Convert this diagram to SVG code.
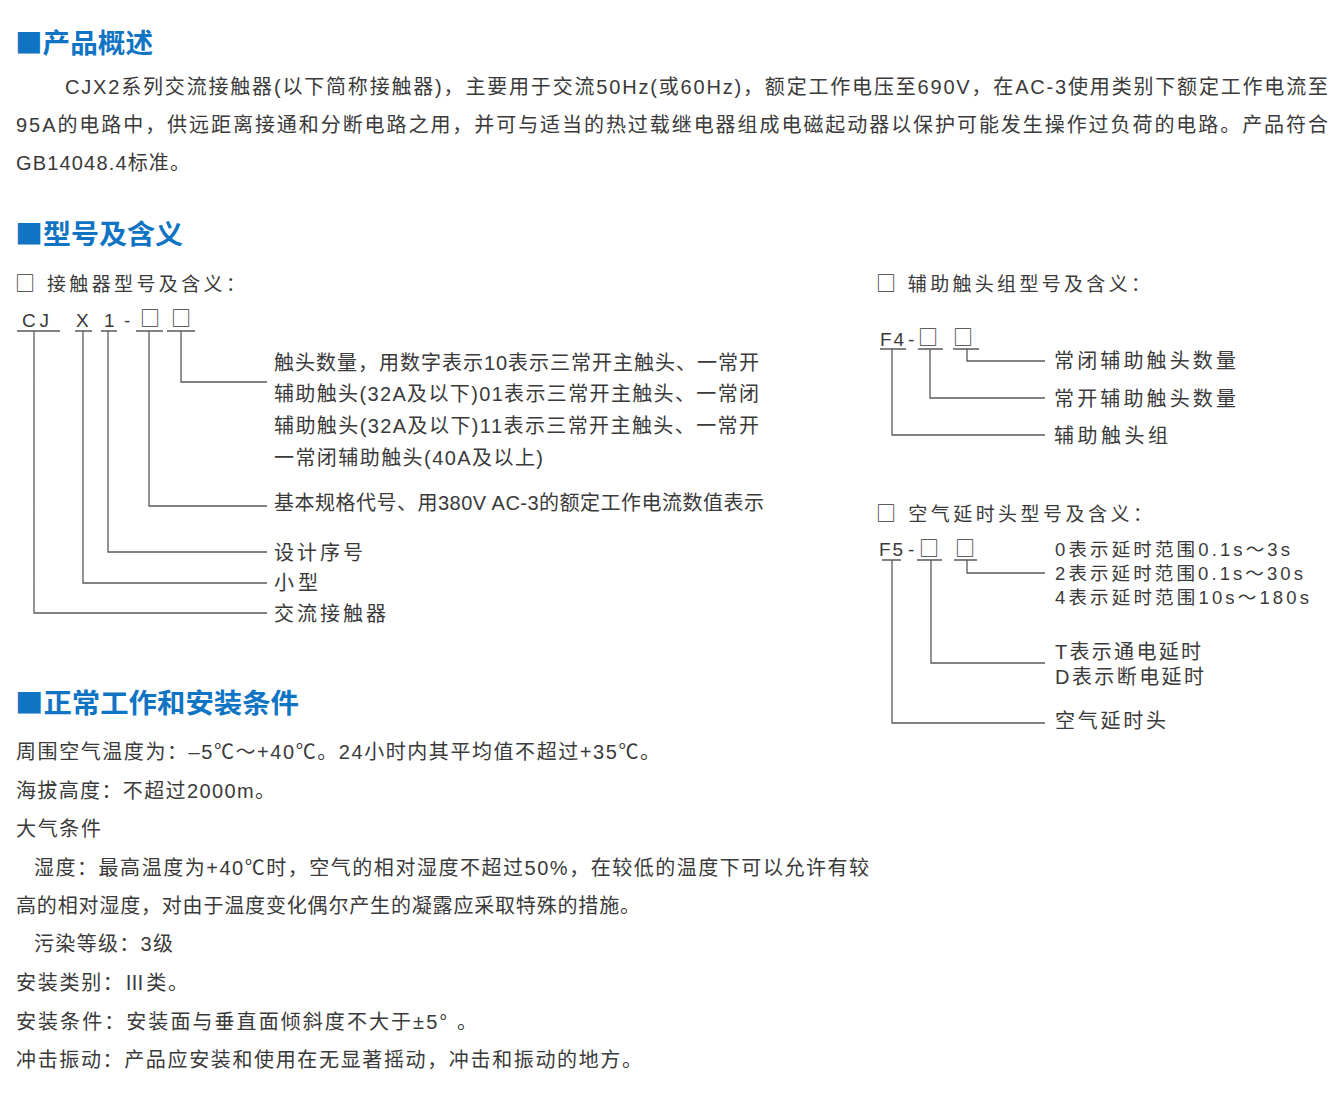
<svg xmlns="http://www.w3.org/2000/svg" width="1340" height="1101" viewBox="0 0 1340 1101">
<style>
.h{font-family:"Noto Sans CJK SC","Liberation Sans",sans-serif;font-weight:bold;font-size:27px;fill:#0f74c4}
.t{font-family:"Liberation Sans","Noto Sans CJK SC",sans-serif;font-size:20px;fill:#3a3a3a}
.s{font-family:"Liberation Sans","Noto Sans CJK SC",sans-serif;font-size:19px;fill:#3a3a3a}
.r{font-family:"Liberation Sans","Noto Sans CJK SC",sans-serif;font-size:18.5px;fill:#3a3a3a}
.c{font-family:"Liberation Sans","Noto Sans CJK SC",sans-serif;font-size:19px;fill:#3a3a3a}
.b{font-family:"Noto Sans CJK SC",sans-serif;font-size:20px;fill:#3a3a3a}
.q{font-family:"Noto Sans CJK SC",sans-serif;font-size:20px}
.k{font-family:"Noto Sans CJK SC",sans-serif}
.ln{fill:none;stroke:#5a5a5a;stroke-width:1.3}
</style>
<rect width="1340" height="1101" fill="#ffffff"/>

<g id="section-overview">
<text class="h" x="15" y="53" textLength="138" lengthAdjust="spacingAndGlyphs">■产品概述</text>
<text class="t" x="65" y="94" textLength="1263" lengthAdjust="spacing">CJX2系列交流接触器(以下简称接触器)，主要用于交流50Hz(或60Hz)，额定工作电压至690V，在AC-3使用类别下额定工作电流至</text>
<text class="t" x="16" y="132" textLength="1312" lengthAdjust="spacing">95A的电路中，供远距离接通和分断电路之用，并可与适当的热过载继电器组成电磁起动器以保护可能发生操作过负荷的电路。产品符合</text>
<text class="t" x="16" y="170" textLength="174" lengthAdjust="spacing">GB14048.4标准。</text>
</g>

<g id="section-model">
<text class="h" x="15" y="244" textLength="168" lengthAdjust="spacingAndGlyphs">■型号及含义</text>
<text class="s" x="15" y="291" textLength="230" lengthAdjust="spacing"><tspan class="q">□</tspan> 接触器型号及含义：</text>
</g>

<g id="code-cjx">
<text class="c" x="22" y="327" textLength="27" lengthAdjust="spacing">CJ</text>
<text class="c" x="76" y="327">X</text>
<text class="c" x="104" y="327">1</text>
<text class="c" x="124" y="327">-</text>
<text class="b" x="140" y="326">□</text>
<text class="b" x="171" y="326">□</text>
</g>

<g id="label-contacts">
<text class="t" x="274" y="370" textLength="485" lengthAdjust="spacing">触头数量，用数字表示10表示三常开主触头、一常开</text>
<text class="t" x="274" y="401" textLength="485" lengthAdjust="spacing">辅助触头(32A及以下)01表示三常开主触头、一常闭</text>
<text class="t" x="274" y="433" textLength="485" lengthAdjust="spacing">辅助触头(32A及以下)11表示三常开主触头、一常开</text>
<text class="t" x="274" y="465" textLength="269" lengthAdjust="spacing">一常闭辅助触头(40A及以上)</text>
</g>
<g id="label-rating">
<text class="t" x="274" y="510" textLength="490" lengthAdjust="spacing">基本规格代号、用380V AC-3的额定工作电流数值表示</text>
</g>
<g id="label-design">
<text class="t" x="274" y="560" textLength="89" lengthAdjust="spacing">设计序号</text>
</g>
<g id="label-small">
<text class="t" x="274" y="590" textLength="44" lengthAdjust="spacing">小型</text>
</g>
<g id="label-ac">
<text class="t" x="274" y="621" textLength="112" lengthAdjust="spacing">交流接触器</text>
</g>

<g id="title-f4">
<text class="s" x="876" y="291" textLength="274" lengthAdjust="spacing"><tspan class="q">□</tspan> 辅助触头组型号及含义：</text>
</g>
<g id="code-f4">
<text class="c" x="880" y="346" textLength="24" lengthAdjust="spacing">F4</text>
<text class="c" x="908" y="346">-</text>
<text class="b" x="918" y="345">□</text>
<text class="b" x="953" y="345">□</text>
</g>
<g id="label-f4-nc">
<text class="t" x="1054" y="368" textLength="182" lengthAdjust="spacing">常闭辅助触头数量</text>
</g>
<g id="label-f4-no">
<text class="t" x="1054" y="406" textLength="182" lengthAdjust="spacing">常开辅助触头数量</text>
</g>
<g id="label-f4-group">
<text class="t" x="1054" y="443" textLength="114" lengthAdjust="spacing">辅助触头组</text>
</g>

<g id="title-f5">
<text class="s" x="876" y="521" textLength="276" lengthAdjust="spacing"><tspan class="q">□</tspan> 空气延时头型号及含义：</text>
</g>
<g id="code-f5">
<text class="c" x="879" y="556" textLength="24" lengthAdjust="spacing">F5</text>
<text class="c" x="908" y="556">-</text>
<text class="b" x="919" y="556">□</text>
<text class="b" x="955" y="556">□</text>
</g>
<g id="label-f5-range">
<text class="r" x="1055" y="556" textLength="235" lengthAdjust="spacing">0表示延时范围0.1s～3s</text>
<text class="r" x="1055" y="580" textLength="248" lengthAdjust="spacing">2表示延时范围0.1s～30s</text>
<text class="r" x="1055" y="604" textLength="254" lengthAdjust="spacing">4表示延时范围10s～180s</text>
</g>
<g id="label-f5-mode">
<text class="t" x="1055" y="659" textLength="146" lengthAdjust="spacing">T表示通电延时</text>
<text class="t" x="1055" y="684" textLength="149" lengthAdjust="spacing">D表示断电延时</text>
</g>
<g id="label-f5-head">
<text class="t" x="1055" y="728" textLength="111" lengthAdjust="spacing">空气延时头</text>
</g>

<g id="connectors">
<path class="ln" d="M17 331H60M75 331H92M101 331H117M136 331H163M167 331H195"/>
<path class="ln" d="M34 331V613H267M83 331V583H267M108 331V552H267M149 331V506H267M181 331V382H267"/>
<path class="ln" d="M880 349H906M918 349H943M953 349H979"/>
<path class="ln" d="M892 349V435H1045M930 349V398H1045M967 349V361H1045"/>
<path class="ln" d="M882 560H901M917 560H942M954 560H977"/>
<path class="ln" d="M892 560V723H1045M931 560V663H1045M967 560V573H1045"/>
</g>

<g id="section-conditions">
<text class="h" x="15" y="713" textLength="284" lengthAdjust="spacingAndGlyphs">■正常工作和安装条件</text>
<text class="t" x="16" y="759" textLength="644" lengthAdjust="spacing">周围空气温度为：–5℃～+40℃。24小时内其平均值不超过+35℃。</text>
<text class="t" x="16" y="798" textLength="259" lengthAdjust="spacing">海拔高度：不超过2000m。</text>
<text class="t" x="16" y="836" textLength="85" lengthAdjust="spacing">大气条件</text>
<text class="t" x="34" y="875" textLength="835" lengthAdjust="spacing">湿度：最高温度为+40℃时，空气的相对湿度不超过50%，在较低的温度下可以允许有较</text>
<text class="t" x="16" y="913" textLength="624" lengthAdjust="spacing">高的相对湿度，对由于温度变化偶尔产生的凝露应采取特殊的措施。</text>
<text class="t" x="34" y="951" textLength="139" lengthAdjust="spacing">污染等级：3级</text>
<text class="t" x="16" y="990" textLength="172" lengthAdjust="spacing">安装类别：<tspan class="k">Ⅲ</tspan>类。</text>
<text class="t" x="16" y="1029" textLength="461" lengthAdjust="spacing">安装条件：安装面与垂直面倾斜度不大于±5° 。</text>
<text class="t" x="16" y="1067" textLength="626" lengthAdjust="spacing">冲击振动：产品应安装和使用在无显著摇动，冲击和振动的地方。</text>
</g>
</svg>
